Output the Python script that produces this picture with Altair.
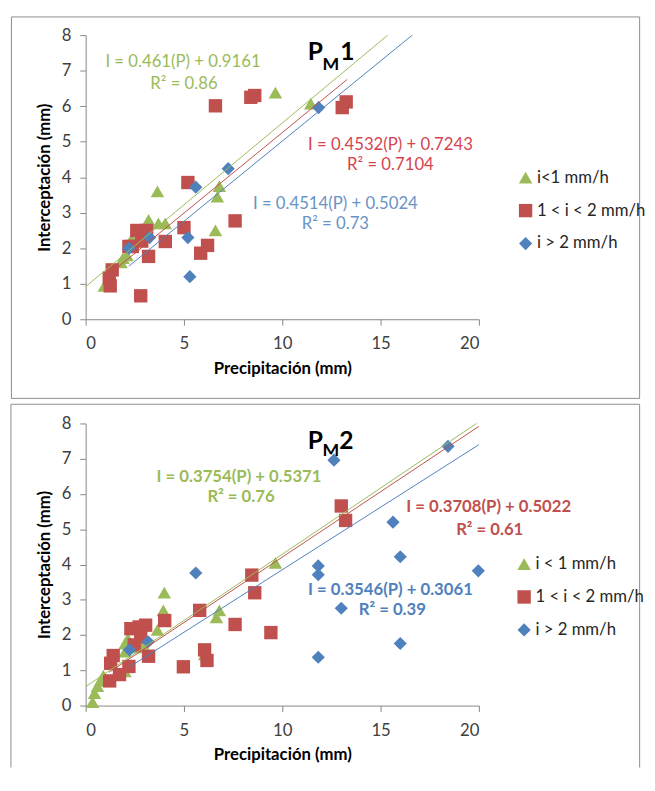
import altair as alt
import pandas as pd

# ---------------- data ----------------
series_top = ["i<1 mm/h", "1 < i < 2 mm/h", "i > 2 mm/h"]
series_bot = ["i < 1 mm/h", "1 < i < 2 mm/h", "i > 2 mm/h"]
colors = ["#9BBB59", "#C0504D", "#4F81BD"]
shapes = ["triangle-up", "square", "diamond"]
marker_sizes = [190, 180, 165]

x_ticks = [0, 5, 10, 15, 20]
y_ticks = [0, 1, 2, 3, 4, 5, 6, 7, 8]

# PM1
top_green_x = [0.95, 1.8, 1.9, 2.1, 2.35, 3.2, 3.7, 4.05, 3.65, 6.6, 6.7, 6.8, 9.65, 11.45]
top_green_y = [0.94, 1.6, 1.72, 1.8, 2.27, 2.8, 2.7, 2.7, 3.6, 2.5, 3.45, 3.75, 6.38, 6.07]
top_red_x = [1.2, 1.35, 1.25, 2.2, 2.37, 2.6, 2.85, 3.1, 2.8, 3.2, 4.05, 5.0, 5.2, 5.85, 6.2, 7.6, 6.6, 8.4, 8.6, 13.05, 13.25]
top_red_y = [1.16, 1.39, 0.94, 2.05, 2.05, 2.5, 2.2, 2.5, 0.66, 1.77, 2.19, 2.58, 3.85, 1.86, 2.08, 2.77, 6.01, 6.25, 6.3, 5.96, 6.12]
top_blue_x = [2.2, 3.25, 5.2, 5.3, 5.6, 7.25, 11.85]
top_blue_y = [2.0, 2.3, 2.3, 1.2, 3.72, 4.24, 5.96]

# PM2
bot_green_x = [0.35, 0.45, 0.6, 0.75, 0.9, 2.0, 2.0, 2.0, 2.15, 2.6, 2.9, 3.65, 3.95, 4.0, 6.05, 6.65, 6.8, 9.65]
bot_green_y = [0.1, 0.35, 0.55, 0.7, 0.85, 0.97, 1.53, 1.76, 1.9, 1.65, 1.75, 2.15, 2.7, 3.2, 1.45, 2.5, 2.7, 4.05]
bot_red_x = [1.22, 1.27, 1.4, 1.72, 2.2, 2.3, 2.47, 2.72, 2.8, 3.05, 3.2, 4.02, 4.97, 5.8, 6.05, 6.17, 7.6, 8.45, 8.6, 9.42, 13.0, 13.22]
bot_red_y = [0.7, 1.2, 1.42, 0.88, 1.11, 2.18, 1.72, 2.23, 1.95, 2.28, 1.4, 2.41, 1.1, 2.7, 1.58, 1.28, 2.3, 3.7, 3.2, 2.07, 5.66, 5.25]
bot_blue_x = [2.23, 3.18, 5.6, 11.83, 11.83, 11.83, 12.63, 13.0, 15.63, 16.0, 16.0, 18.43, 19.97]
bot_blue_y = [1.58, 1.81, 3.76, 3.96, 3.71, 1.37, 6.96, 2.76, 5.2, 4.22, 1.76, 7.35, 3.82]

# trend lines (equations shown in the chart) and their x extents
top_slopes = [0.461, 0.4532, 0.4514]
top_intercepts = [0.9161, 0.7243, 0.5024]
top_x_start = [0.0, 1.0, 2.2]
top_x_end = [15.4, 13.3, 16.7]
bot_slopes = [0.3754, 0.3708, 0.3546]
bot_intercepts = [0.5371, 0.5022, 0.3061]
bot_x_start = [0.0, 1.2, 2.2]
bot_x_end = [20.0, 20.0, 20.0]

top_eq = ["I = 0.461(P) + 0.9161", "I = 0.4532(P) + 0.7243", "I = 0.4514(P) + 0.5024"]
top_r2 = ["R² = 0.86", "R² = 0.7104", "R² = 0.73"]
bot_eq = ["I = 0.3754(P) + 0.5371", "I = 0.3708(P) + 0.5022", "I = 0.3546(P) + 0.3061"]
bot_r2 = ["R² = 0.76", "R² = 0.61", "R² = 0.39"]
top_title = ["P", "M", "1"]
bot_title = ["P", "M", "2"]

FONT = "Lato"


def points_df(names, xs_list, ys_list):
    rows = []
    for name, xs, ys in zip(names, xs_list, ys_list):
        for xv, yv in zip(xs, ys):
            rows.append({"P": xv, "I": yv, "serie": name})
    return pd.DataFrame(rows)


def trend_df(names, slopes, intercepts, x0s, x1s):
    rows = []
    for name, a, b, x0, x1 in zip(names, slopes, intercepts, x0s, x1s):
        for xv in (x0, x1):
            rows.append({"P": xv, "I": a * xv + b, "serie": name})
    return pd.DataFrame(rows)


one = pd.DataFrame({"k": [0]})


def panel(names, pts, trend, height, eqs, r2s, eq_pos, text_style, title, title_pos,
          legend_xy, frame, closed):
    x_enc = alt.X("P:Q", scale=alt.Scale(domain=[0, 20], nice=False, zero=True),
                  axis=alt.Axis(values=x_ticks, title="Precipitación (mm)", grid=False))
    y_enc = alt.Y("I:Q", scale=alt.Scale(domain=[0, 8], nice=False, zero=True),
                  axis=alt.Axis(values=y_ticks, title="Interceptación (mm)", grid=False))
    legend = alt.Legend(title=None, orient="none", legendX=legend_xy[0], legendY=legend_xy[1],
                        labelFont=FONT, labelFontSize=17, labelColor="#262626",
                        symbolSize=120, rowPadding=15.5, labelOffset=3, padding=0,
                        symbolStrokeWidth=0, symbolOpacity=1)
    layers = []
    # frame
    fx0, fx1, fy0, fy1 = frame
    if closed:
        layers.append(alt.Chart(one).mark_rect(fillOpacity=0, stroke="#8c8c8c", strokeWidth=1).encode(
            x=alt.value(fx0), x2=alt.value(fx1), y=alt.value(fy0), y2=alt.value(fy1)))
    else:
        layers.append(alt.Chart(one).mark_rule(color="#8c8c8c", strokeWidth=1).encode(
            x=alt.value(fx0), y=alt.value(fy0), y2=alt.value(fy1)))
        layers.append(alt.Chart(one).mark_rule(color="#8c8c8c", strokeWidth=1).encode(
            x=alt.value(fx1), y=alt.value(fy0), y2=alt.value(fy1)))
        layers.append(alt.Chart(one).mark_rule(color="#8c8c8c", strokeWidth=1).encode(
            x=alt.value(fx0), x2=alt.value(fx1), y=alt.value(fy0)))
    # points
    layers.append(alt.Chart(pts).mark_point(filled=True, opacity=1).encode(
        x=x_enc, y=y_enc,
        color=alt.Color("serie:N", scale=alt.Scale(domain=names, range=colors), legend=legend, sort=names),
        shape=alt.Shape("serie:N", scale=alt.Scale(domain=names, range=shapes), legend=legend, sort=names),
        size=alt.Size("serie:N", scale=alt.Scale(domain=names, range=marker_sizes), legend=None),
        order=alt.Order("idx:Q"),
    ).transform_window(idx="row_number()"))
    # trend lines
    for name, c in zip(names, colors):
        layers.append(alt.Chart(trend).transform_filter(alt.datum.serie == name)
                      .mark_line(color=c, strokeWidth=1, clip=True)
                      .encode(x=x_enc, y=y_enc))
    # equations
    weight, size, tcolors = text_style
    for i in range(3):
        (ex, ey), (rx, ry) = eq_pos[i]
        layers.append(alt.Chart(one).mark_text(text=eqs[i], font=FONT, fontSize=size, fontWeight=weight,
                                               color=tcolors[i], align="center", baseline="middle")
                      .encode(x=alt.value(ex), y=alt.value(ey)))
        layers.append(alt.Chart(one).mark_text(text=r2s[i], font=FONT, fontSize=size, fontWeight=weight,
                                               color=tcolors[i], align="center", baseline="middle")
                      .encode(x=alt.value(rx), y=alt.value(ry)))
    # title P_M n
    for txt, (tx, ty, fs) in zip(title, title_pos):
        layers.append(alt.Chart(one).mark_text(text=txt, font=FONT, fontSize=fs, fontWeight="bold",
                                               color="black", align="left", baseline="alphabetic")
                      .encode(x=alt.value(tx), y=alt.value(ty)))
    return alt.layer(*layers).properties(width=400, height=height)


top_pts = points_df(series_top, [top_green_x, top_red_x, top_blue_x], [top_green_y, top_red_y, top_blue_y])
bot_pts = points_df(series_bot, [bot_green_x, bot_red_x, bot_blue_x], [bot_green_y, bot_red_y, bot_blue_y])
top_tr = trend_df(series_top, top_slopes, top_intercepts, top_x_start, top_x_end)
bot_tr = trend_df(series_bot, bot_slopes, bot_intercepts, bot_x_start, bot_x_end)

top = panel(series_top, top_pts, top_tr, 289, top_eq, top_r2,
            [((99, 27), (100, 49.5)), ((310, 111.5), (310, 132.5)), ((254, 171.5), (254, 192.5))],
            ("normal", 17, ["#9BBB59", "#D6444F", "#6A93C6"]),
            top_title, [(226, 25, 25), (241, 35, 18), (259, 25, 25)],
            (439, 136.5), (-75.5, 563.5, -18.5, 369.5), True)

bot = panel(series_bot, bot_pts, bot_tr, 287, bot_eq, bot_r2,
            [((156, 54.5), (158, 75)), ((410, 85), (411, 108)), ((310, 169), (312, 190))],
            ("bold", 17, ["#9BBB59", "#C0504D", "#4F81BD"]),
            bot_title, [(226, 25.5, 25), (241, 33, 18), (258, 25.5, 25)],
            (437.5, 134.5), (-76, 563.5, -19.5, 350), False)

chart = alt.vconcat(top, bot, spacing=3).resolve_scale(
    color="independent", shape="independent", size="independent"
).properties(
    padding={"left": 2, "top": 1, "right": 0, "bottom": 0}
).configure_view(stroke="transparent").configure_axis(
    labelFont=FONT, labelFontSize=17, labelColor="#404040",
    domainColor="#868686", tickColor="#868686", tickSize=6,
    titleFont=FONT, titleFontSize=17, titleFontWeight="bold", titleColor="black",
).configure_axisX(labelPadding=11, titlePadding=9).configure_axisY(labelPadding=9, titlePadding=7.5)

chart.save("out.html", embed_options={"renderer": "svg", "actions": False})
